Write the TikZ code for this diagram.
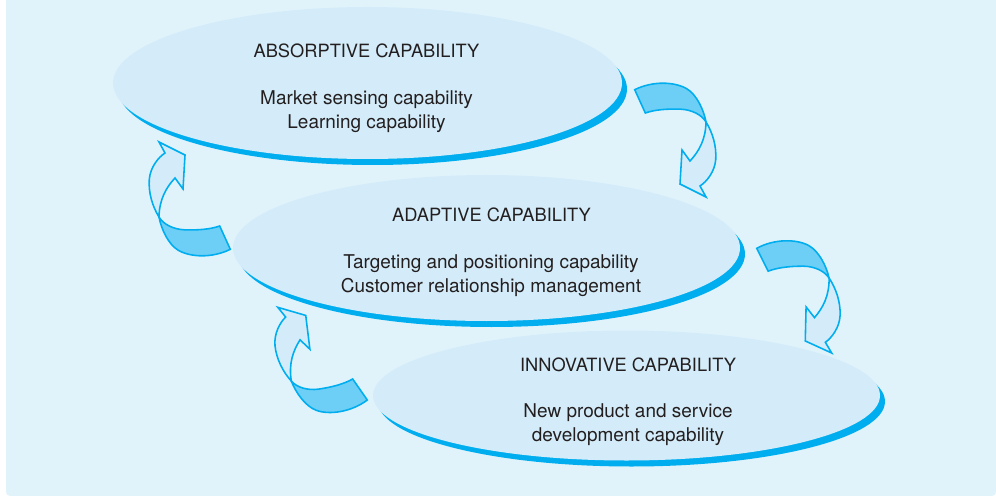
\documentclass[tikz,border=0pt]{standalone}
\usepackage{fontspec}
\setmainfont{TeX Gyre Heros}
\usepackage{tikz}
\usetikzlibrary{calc}
\usepackage{xcolor}
\definecolor{panel-blue}{RGB}{224,243,251}
\definecolor{ring-blue}{RGB}{212,236,249}
\definecolor{edge-blue}{RGB}{0,174,239}
\definecolor{ribbon-blue}{RGB}{109,207,246}
\definecolor{label-gray}{RGB}{35,31,32}
\tikzstyle{panel}=[fill=panel-blue]
\tikzstyle{ringfill}=[fill=ring-blue]
\tikzstyle{ringshadow}=[fill=edge-blue]
\tikzstyle{ribbonback}=[fill=ribbon-blue, draw=edge-blue, line width=0.9pt]
\tikzstyle{ribbonfront}=[fill=ring-blue, draw=edge-blue, line width=0.9pt]
\tikzstyle{caplabel}=[anchor=base, align=center, inner sep=0pt, text=label-gray, font=\fontsize{10.4}{13.6}\selectfont]
\tikzstyle{caplist}=[caplabel, font=\fontsize{10.8}{13.6}\selectfont]
\newcommand{\capRing}[3]{
	\fill[ringshadow] ($#1+(5,6)$) ellipse (#2 and #3);
	\fill[ringfill] #1 ellipse (#2 and #3);
}
\newcommand{\ribbonArrow}[2]{
	\begin{scope}[shift={#1}, rotate=#2]
		\draw[ribbonfront] (71.3,32.3) .. controls (78,43) and (82,57) .. (81,70) .. controls (80,82) and (72,92) .. (65.3,96.3)
			-- (71.3,107.3) -- (45.3,94.3) -- (47.3,60.3) -- (55.3,71.3) .. controls (64,62) and (71,50) .. (71.3,32.3) -- cycle;
		\draw[ribbonback] (0,0) .. controls (18,-9) and (40,-8) .. (52,-1) .. controls (62,5) and (69,20) .. (71.3,32.3)
			.. controls (67,25) and (57,20) .. (46,19.5) .. controls (32,19) and (20,20) .. (10.6,23.3) -- cycle;
	\end{scope}
}

\begin{document}
\begin{tikzpicture}[x=0.02cm, y=-0.02cm]
	\useasboundingbox (0,0) rectangle (996,496);
	\clip (0,0) rectangle (996,496);
	\fill[panel, rounded corners=0.08cm] (6,-20) rectangle (996,496);
	\capRing{(367.5,83)}{254.5}{76}
	\capRing{(486.5,248)}{253.5}{73}
	\capRing{(626.5,395.5)}{253.5}{65}
	\ribbonArrow{(634.7,89.7)}{0}
	\ribbonArrow{(756.7,248.3)}{2}
	\ribbonArrow{(230.3,249.3)}{180}
	\ribbonArrow{(367.3,400)}{190.4}
	\node[caplabel] (absorbTitle) at (366.5,58) {ABSORPTIVE CAPABILITY};
	\node[caplist] (absorbList) at (366.5,128.5) {Market sensing capability\\Learning capability};
	\node[caplabel] (adaptTitle) at (491.5,222) {ADAPTIVE CAPABILITY};
	\node[caplist] (adaptList) at (491,292.5) {Targeting and positioning capability\\Customer relationship management};
	\node[caplabel] (innovTitle) at (628,371) {INNOVATIVE CAPABILITY};
	\node[caplist] (innovList) at (628,441.5) {New product and service\\development capability};
\end{tikzpicture}
\end{document}
